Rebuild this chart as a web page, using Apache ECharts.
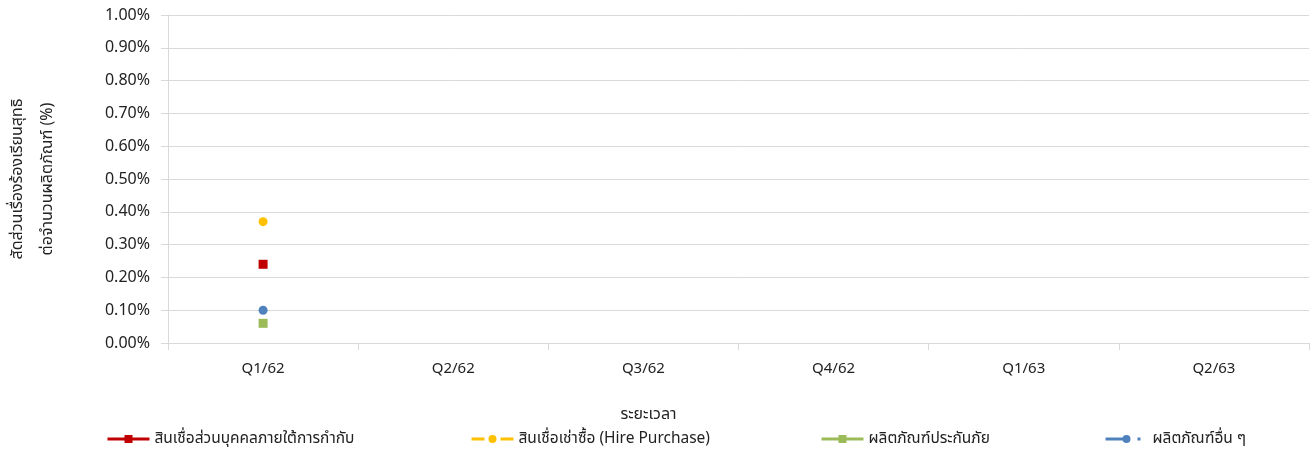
<!DOCTYPE html>
<html>
<head>
<meta charset="utf-8">
<script src="https://cdn.jsdelivr.net/npm/echarts@6/dist/echarts.min.js"></script>
<style>
  html, body { margin: 0; padding: 0; background: #fff; }
  #chart { width: 1312px; height: 453px; }
</style>
</head>
<body>
<div id="chart"></div>
<script>
// quarters (Thai Buddhist year)
const quarters = ['Q1/62', 'Q2/62', 'Q3/62', 'Q4/62', 'Q1/63', 'Q2/63'];

// complaint ratio per product (%) - only Q1/62 has data
const personalLoan = [0.24, null, null, null, null, null];
const hirePurchase = [0.37, null, null, null, null, null];
const insurance = [0.06, null, null, null, null, null];
const otherProducts = [0.10, null, null, null, null, null];

const seriesNames = [
  'สินเชื่อส่วนบุคคลภายใต้การกำกับ',
  'สินเชื่อเช่าซื้อ (Hire Purchase)',
  'ผลิตภัณฑ์ประกันภัย',
  'ผลิตภัณฑ์อื่น ๆ'
];

const FONT = '"Noto Sans", "Noto Sans Thai", sans-serif';
const textColor = '#222';
const gridColor = '#d9d9d9';

const chart = echarts.init(document.getElementById('chart'));

function legendAt(name, left) {
  return {
    data: [name],
    left: left,
    top: 431,
    padding: 0,
    itemWidth: 42,
    itemHeight: 10,
    lineStyle: { width: 3 },
    textStyle: { fontFamily: FONT, fontSize: 15.5, color: textColor }
  };
}

const option = {
  backgroundColor: '#fff',
  animation: false,
  grid: { left: 168, right: 3, top: 15, bottom: 110, outerBoundsMode: 'none' },
  legend: [
    legendAt(seriesNames[0], 106),
    legendAt(seriesNames[1], 470),
    legendAt(seriesNames[2], 820),
    legendAt(seriesNames[3], 1104)
  ],
  xAxis: {
    type: 'category',
    data: quarters,
    name: 'ระยะเวลา',
    nameLocation: 'middle',
    nameGap: 63,
    nameTextStyle: { fontFamily: FONT, fontSize: 16, color: textColor, padding: [0, 180, 0, 0] },
    axisLine: { lineStyle: { color: gridColor } },
    axisTick: { show: true, length: 7, lineStyle: { color: gridColor } },
    axisLabel: { fontFamily: FONT, fontSize: 15, color: textColor, margin: 18 }
  },
  yAxis: {
    type: 'value',
    min: 0,
    max: 1,
    interval: 0.1,
    name: 'สัดส่วนเรื่องร้องเรียนสุทธิ\nต่อจำนวนผลิตภัณฑ์ (%)',
    nameLocation: 'middle',
    nameRotate: 90,
    nameGap: 106,
    nameTextStyle: { fontFamily: FONT, fontSize: 16, color: textColor, lineHeight: 30 },
    axisLine: { show: true, lineStyle: { color: gridColor } },
    axisTick: { show: true, length: 7, lineStyle: { color: gridColor } },
    splitLine: { lineStyle: { color: gridColor } },
    axisLabel: {
      fontFamily: FONT, fontSize: 16, color: textColor, margin: 18,
      formatter: v => v.toFixed(2) + '%'
    }
  },
  series: [
    {
      name: seriesNames[0], type: 'line', data: personalLoan,
      symbol: 'rect', symbolSize: 9, color: '#C00000',
      lineStyle: { width: 3 }
    },
    {
      name: seriesNames[1], type: 'line', data: hirePurchase,
      symbol: 'circle', symbolSize: 9, color: '#FFC000',
      lineStyle: { width: 3, type: [13, 16] }
    },
    {
      name: seriesNames[2], type: 'line', data: insurance,
      symbol: 'rect', symbolSize: 9, color: '#9BBB59',
      lineStyle: { width: 3 }
    },
    {
      name: seriesNames[3], type: 'line', data: otherProducts,
      symbol: 'circle', symbolSize: 9, color: '#4F81BD',
      lineStyle: { width: 3, type: [22, 10, 3, 10] }
    }
  ]
};

chart.setOption(option);
</script>
</body>
</html>
